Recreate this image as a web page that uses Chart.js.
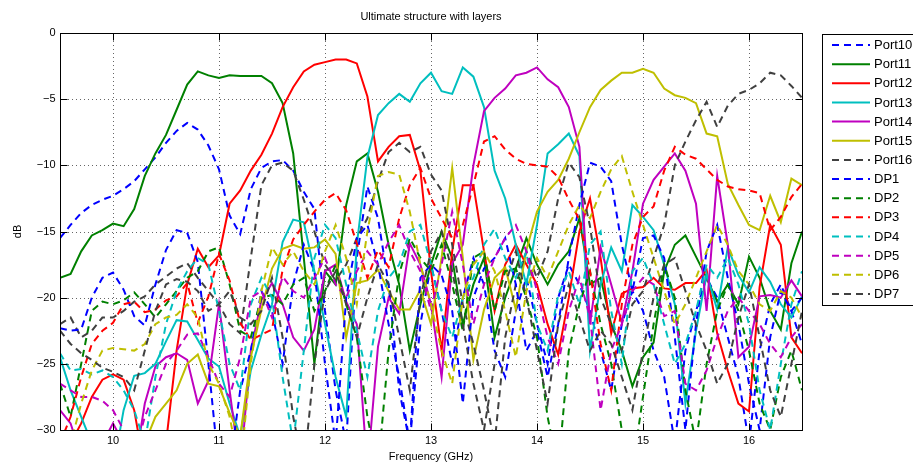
<!DOCTYPE html>
<html>
<head>
<meta charset="utf-8">
<script src="https://cdn.jsdelivr.net/npm/chart.js@4.4.0/dist/chart.umd.min.js"></script>
<style>
  html, body { margin: 0; padding: 0; background: #fff; }
  #wrap { width: 913px; height: 465px; }
</style>
</head>
<body>
<div id="wrap"><canvas id="chart" width="913" height="465"></canvas></div>
<script>
// Text and ticks
const titleText = 'Ultimate structure with layers';
const xLabel = 'Frequency (GHz)';
const yLabel = 'dB';
const xTicks = [10, 11, 12, 13, 14, 15, 16];
const yTicks = [0, -5, -10, -15, -20, -25, -30];

// Frequency samples (GHz)
const freq = [
  9.5, 9.6, 9.7, 9.8, 9.9, 10.0, 10.1, 10.2, 10.3, 10.4, 10.5, 10.6, 10.7, 10.8, 10.9,
  11.0, 11.1, 11.2, 11.3, 11.4, 11.5, 11.6, 11.7, 11.8, 11.9, 12.0, 12.1, 12.2, 12.3, 12.4,
  12.5, 12.6, 12.7, 12.8, 12.9, 13.0, 13.1, 13.2, 13.3, 13.4, 13.5, 13.6, 13.7, 13.8, 13.9,
  14.0, 14.1, 14.2, 14.3, 14.4, 14.5, 14.6, 14.7, 14.8, 14.9, 15.0, 15.1, 15.2, 15.3, 15.4,
  15.5, 15.6, 15.7, 15.8, 15.9, 16.0, 16.1, 16.2, 16.3, 16.4, 16.5
];

// Series values (dB), one per frequency sample
const port10 = [
  -15.5, -14.5, -13.6, -13.0, -12.6, -12.3, -11.8, -11.2, -10.3, -9.4, -8.3, -7.4, -6.8, -7.3, -8.5,
  -10.3, -13.8, -15.2, -11.8, -10.2, -9.7, -9.6, -10.4, -12.0, -13.3, -21.0, -27.0, -31.0, -17.0, -11.6,
  -14.0, -19.0, -27.0, -31.0, -22.0, -17.5, -21.0, -25.0, -20.0, -17.0, -19.0, -24.0, -26.0, -21.0, -18.5,
  -22.0, -25.0, -20.0, -17.5, -19.0, -21.0, -24.0, -27.0, -22.0, -19.5, -21.0, -24.0, -26.0, -31.0, -24.0,
  -21.0, -18.5, -20.0, -23.0, -26.0, -31.0, -24.0, -20.5, -19.0, -21.0, -23.5
];
const port11 = [
  -18.5, -18.2, -16.5, -15.3, -14.9, -14.4, -14.6, -13.3, -10.8, -9.1, -7.7, -5.8, -3.9, -2.9, -3.2,
  -3.4, -3.2, -3.25, -3.25, -3.25, -3.8, -5.3, -9.1, -17.0, -25.0, -18.0, -19.0, -13.0, -9.7, -9.1,
  -12.0, -16.0, -19.0, -24.0, -20.5, -17.5, -15.0, -17.0, -22.0, -19.0, -17.0, -23.0, -20.0, -17.8, -15.5,
  -17.5, -19.0, -17.5, -16.5, -14.0, -19.0, -18.5, -22.0, -24.0, -26.7, -24.5, -23.4, -18.0, -16.0, -15.3,
  -16.9, -18.5, -20.3, -19.0, -20.5, -16.9, -18.5, -21.0, -22.4, -17.4, -15.0
];
const port12 = [
  -33.0, -31.0, -29.5, -27.5, -26.2, -25.8, -26.2, -28.5, -33.0, -33.0, -31.0, -24.0, -19.0, -16.3, -17.7,
  -16.8, -12.9, -11.9, -10.4, -9.2, -7.6, -5.6, -4.1, -2.9, -2.4, -2.2, -2.0, -2.0, -2.3, -4.8,
  -9.7, -8.6, -7.8, -7.7, -10.4, -18.0, -24.0, -16.5, -11.5, -11.5, -16.5, -21.0, -17.5, -16.0, -17.5,
  -19.0, -22.0, -24.3, -20.0, -15.0, -12.5, -17.0, -22.7, -19.7, -19.3, -19.2, -18.5, -19.3, -19.4, -18.9,
  -18.9, -17.9, -22.7, -25.5, -28.0, -28.6, -19.2, -14.5, -16.0, -23.0, -24.2
];
const port13 = [
  -24.5, -27.0, -29.0, -31.0, -33.0, -33.0, -28.5, -25.9, -25.7, -25.0, -23.3, -21.7, -21.8, -23.2, -24.6,
  -25.2, -28.0, -30.5, -25.5, -22.8, -20.5, -15.8, -14.1, -14.3, -18.0, -22.0, -26.0, -29.0, -16.0, -9.4,
  -6.2, -5.3, -4.6, -5.2, -3.8, -3.0, -4.4, -4.6, -2.6, -3.3, -5.6, -10.4, -12.5, -16.0, -19.0,
  -14.5, -9.1, -8.4, -7.6, -9.3, -24.0, -19.0, -16.2, -18.0, -13.0, -13.9, -14.9, -17.5, -20.5, -28.0,
  -22.5, -18.2, -20.9, -16.2, -18.3, -19.6, -17.7, -18.8, -20.5, -21.5, -19.9
];
const port14 = [
  -28.5, -29.5, -32.0, -33.0, -31.0, -29.5, -31.0, -33.0, -28.0, -25.2, -24.5, -24.2, -24.7, -28.0, -26.3,
  -20.5, -27.0, -33.0, -24.0, -20.2, -18.9, -20.5, -23.0, -24.0, -22.4, -18.0, -17.5, -20.3, -22.0, -33.0,
  -23.7, -20.0, -21.2, -15.9, -17.5, -20.5, -26.0, -17.4, -16.0, -10.0, -5.9, -4.9, -4.2, -3.2, -3.0,
  -2.6, -3.5, -4.1, -5.6, -8.6, -22.0, -16.2, -19.0, -21.9, -18.0, -12.9, -11.1, -10.1, -9.1, -10.4,
  -12.9, -21.0, -10.8, -16.0, -24.5, -23.7, -19.9, -19.8, -20.0, -18.7, -19.9
];
const port15 = [
  -35.0, -35.0, -35.0, -34.0, -33.0, -33.0, -32.0, -32.0, -31.0, -29.0, -28.0, -27.0, -25.0, -24.3, -26.5,
  -26.7, -28.7, -30.5, -24.5, -20.9, -17.8, -16.3, -16.0, -16.3, -16.2, -15.6, -16.7, -23.0, -18.9, -18.7,
  -17.9, -19.5, -20.9, -20.9, -19.4, -22.0, -17.0, -10.2, -17.0, -24.7, -20.9, -18.5, -17.7, -20.9, -16.4,
  -13.5, -12.0, -11.1, -9.5, -7.5, -5.6, -4.3, -3.6, -3.0, -3.0, -2.7, -3.0, -4.2, -4.7, -4.9,
  -5.3, -7.6, -7.8, -11.4, -13.0, -14.5, -14.9, -12.3, -14.3, -11.0, -11.5
];
const port16 = [
  -22.0, -21.5, -23.0, -22.5, -21.5, -21.5, -21.0, -20.3, -19.9, -19.0, -18.4, -17.8, -17.4, -18.5, -19.5,
  -20.5, -22.0, -22.7, -17.0, -11.5, -10.0, -9.8, -10.4, -12.6, -15.0, -17.5, -18.7, -17.5, -15.5, -14.0,
  -11.2, -9.0, -8.3, -9.0, -8.6, -10.7, -11.9, -16.0, -20.5, -23.5, -27.0, -31.0, -23.0, -19.0, -16.5,
  -18.5, -16.5, -12.5, -9.8, -10.9, -14.6, -20.0, -22.0, -24.0, -20.5, -19.5, -17.0, -14.5, -10.0, -8.2,
  -6.6, -5.2, -7.1, -5.5, -4.6, -4.3, -3.8, -3.0, -3.2, -4.0, -4.9
];
const dp1 = [
  -22.3, -22.5, -22.4, -20.0, -18.5, -18.1, -19.4, -21.4, -22.1, -19.0, -16.4, -14.9, -15.1, -17.3, -25.0,
  -33.0, -33.0, -27.0, -24.0, -19.5, -21.0, -25.0, -19.0, -16.0, -18.0, -25.0, -31.0, -20.0, -15.5, -14.5,
  -17.5, -22.0, -26.0, -31.0, -18.5, -17.5, -18.3, -21.0, -28.0, -20.0, -17.8, -17.0, -15.5, -19.0, -24.0,
  -22.5, -26.0, -22.0, -17.0, -13.0, -9.8, -10.1, -11.2, -16.0, -19.5, -15.5, -15.3, -17.0, -23.0, -30.0,
  -22.0, -16.5, -14.5, -18.5, -22.0, -26.5, -30.0, -23.0, -19.5, -21.0, -20.0
];
const dp2 = [
  -26.5, -29.0, -25.0, -21.0, -20.3, -20.5, -20.2, -19.6, -20.5, -21.5, -20.5, -19.5, -18.5, -18.0, -16.5,
  -16.2, -19.0, -22.5, -23.0, -20.0, -19.8, -20.5, -19.0, -18.5, -21.0, -19.5, -17.5, -20.5, -23.0, -29.0,
  -33.0, -24.0, -18.2, -15.5, -17.0, -18.0, -16.0, -19.0, -22.5, -17.0, -16.5, -21.0, -18.0, -17.8, -20.0,
  -23.0, -29.0, -33.0, -24.0, -20.5, -18.0, -22.0, -25.0, -30.0, -33.0, -27.5, -22.0, -17.5, -20.0, -27.0,
  -31.0, -25.0, -21.0, -19.0, -21.0, -24.0, -28.0, -30.0, -26.0, -24.0, -27.0
];
const dp3 = [
  -31.0, -29.0, -26.0, -23.5, -22.5, -21.9, -20.5, -20.3, -21.1, -20.9, -20.2, -19.9, -18.9, -21.9, -19.9,
  -16.7, -18.7, -21.9, -23.2, -22.8, -22.4, -17.9, -15.6, -14.5, -13.5, -12.6, -12.1, -13.4, -15.9, -18.5,
  -16.4, -17.7, -14.0, -11.5, -10.2, -12.5, -14.0, -15.5, -14.5, -11.5, -8.2, -7.8, -8.8, -9.5, -9.9,
  -10.0, -10.1, -10.9, -12.6, -14.1, -18.0, -23.5, -27.0, -20.5, -16.0, -13.9, -13.1, -10.4, -8.6, -9.2,
  -9.5, -10.3, -11.1, -11.6, -11.8, -11.9, -12.1, -14.9, -13.9, -12.4, -11.4
];
const dp4 = [
  -24.2, -25.5, -25.4, -25.8, -25.5, -26.0, -27.0, -28.5, -31.0, -26.0, -22.0, -19.5, -18.0, -17.0, -17.5,
  -21.0, -25.0, -27.0, -20.5, -18.5, -20.0, -26.0, -31.0, -24.0, -17.0, -14.5, -15.5, -19.0, -22.5, -26.0,
  -21.0, -18.5, -17.5, -15.0, -14.5, -17.5, -21.0, -23.0, -20.0, -18.5, -16.0, -14.8, -17.0, -18.5, -16.5,
  -22.0, -24.0, -19.8, -18.0, -20.5, -16.0, -15.0, -21.0, -25.0, -18.0, -17.0, -19.0, -22.0, -25.0, -23.5,
  -21.0, -17.5, -18.5, -17.0, -19.0, -22.0, -27.0, -30.0, -25.0, -20.5, -18.0
];
const dp5 = [
  -26.5, -27.0, -27.5, -27.5, -27.8, -28.5, -30.0, -32.0, -29.0, -27.0, -25.0, -24.0, -22.8, -22.7, -24.5,
  -26.5, -27.5, -24.5, -20.0, -19.5, -21.5, -18.4, -19.5, -20.0, -18.5, -17.0, -19.0, -20.0, -18.0, -16.5,
  -17.5, -15.8, -14.5, -16.5, -18.0, -21.0, -17.5, -13.5, -17.5, -22.0, -19.0, -17.0, -15.5, -14.5, -16.5,
  -19.5, -23.0, -25.0, -21.0, -18.5, -21.5, -28.5, -24.0, -22.0, -19.5, -18.5, -19.0, -21.4, -21.0, -26.5,
  -27.0, -25.5, -23.0, -21.0, -20.0, -21.0, -22.0, -23.5, -24.5, -23.0, -22.0
];
const dp6 = [
  -33.0, -31.0, -28.0, -25.5, -24.0, -23.8, -23.9, -24.0, -23.5, -22.0, -21.5, -21.3, -20.5, -21.5, -25.0,
  -26.5, -29.0, -33.0, -25.0, -19.5, -16.2, -17.5, -16.5, -18.0, -19.0, -16.5, -14.5, -17.0, -20.5, -15.0,
  -10.8, -10.5, -10.7, -13.5, -17.5, -20.5, -24.0, -26.5, -20.0, -17.5, -16.5, -18.0, -21.0, -24.5, -19.5,
  -17.0, -18.5, -16.5, -14.5, -13.0, -14.0, -12.0, -10.3, -9.3, -12.0, -14.5, -17.0, -19.5, -22.0, -20.5,
  -18.5, -16.5, -14.5, -16.0, -18.0, -19.0, -20.5, -21.0, -19.5, -20.0, -21.5
];
const dp7 = [
  -22.5, -23.5, -24.2, -24.7, -25.3, -25.6, -26.0, -27.0, -24.0, -21.0, -19.0, -18.6, -18.8, -19.5, -21.0,
  -20.5, -19.5, -21.5, -22.0, -21.0, -18.5, -23.0, -29.0, -33.0, -25.0, -19.5, -18.0, -20.5, -23.0, -20.0,
  -17.5, -19.0, -23.0, -27.0, -20.0, -16.5, -15.0, -18.0, -22.0, -26.5, -30.0, -25.0, -19.0, -16.5, -20.0,
  -24.0, -28.0, -22.0, -19.0, -21.5, -24.0, -22.5, -23.5, -26.0, -28.5, -24.0, -20.0, -17.5, -17.0, -19.5,
  -22.0, -24.0, -26.5, -25.0, -21.5, -19.0, -23.0, -27.0, -29.0, -25.0, -21.0
];

const seriesNames = ['Port10', 'Port11', 'Port12', 'Port13', 'Port14', 'Port15', 'Port16',
                     'DP1', 'DP2', 'DP3', 'DP4', 'DP5', 'DP6', 'DP7'];
const seriesValues = [port10, port11, port12, port13, port14, port15, port16,
                      dp1, dp2, dp3, dp4, dp5, dp6, dp7];

// MATLAB default line colours and styles
const seriesColors = ['#0000ff', '#008000', '#ff0000', '#00bfbf', '#bf00bf', '#bfbf00', '#404040',
                      '#0000ff', '#008000', '#ff0000', '#00bfbf', '#bf00bf', '#bfbf00', '#404040'];
const seriesDashed = [true, false, false, false, false, false, true,
                      true, true, true, true, true, true, true];
const DASH = [7, 5];
const FONT = '"Liberation Sans", Arial, Helvetica, sans-serif';

const datasets = seriesNames.map((name, i) => ({
  label: name,
  data: freq.map((f, k) => ({ x: f, y: seriesValues[i][k] })),
  borderColor: seriesColors[i],
  borderWidth: 2,
  borderDash: seriesDashed[i] ? DASH : [],
  pointRadius: 0,
  tension: 0,
  fill: false,
  // later series drawn on top, as in MATLAB
  order: seriesNames.length - i
}));

// Draws the MATLAB-style axes box, dotted grid, inward ticks, labels, title and legend
const matlabAxes = {
  id: 'matlabAxes',
  beforeDatasetsDraw(chart) {
    const { ctx, chartArea: a, scales } = chart;
    ctx.save();
    ctx.strokeStyle = 'rgba(0,0,0,0.6)';
    ctx.lineWidth = 1;
    ctx.setLineDash([1, 3]);
    xTicks.forEach(t => {
      const px = Math.round(scales.x.getPixelForValue(t)) + 0.5;
      ctx.beginPath(); ctx.moveTo(px, a.top); ctx.lineTo(px, a.bottom); ctx.stroke();
    });
    yTicks.forEach(t => {
      const py = Math.round(scales.y.getPixelForValue(t)) + 0.5;
      ctx.beginPath(); ctx.moveTo(a.left, py); ctx.lineTo(a.right, py); ctx.stroke();
    });
    ctx.restore();
  },
  afterDatasetsDraw(chart) {
    const { ctx, chartArea: a, scales } = chart;
    const L = Math.round(a.left) + 0.5, R = Math.round(a.right) + 0.5;
    const T = Math.round(a.top) + 0.5, B = Math.round(a.bottom) + 0.5;
    ctx.save();
    ctx.setLineDash([]);
    ctx.strokeStyle = '#000';
    ctx.lineWidth = 1;
    ctx.strokeRect(L, T, R - L, B - T);

    // inward ticks on all four sides
    const tk = 7;
    ctx.beginPath();
    xTicks.forEach(t => {
      const px = Math.round(scales.x.getPixelForValue(t)) + 0.5;
      ctx.moveTo(px, B); ctx.lineTo(px, B - tk);
      ctx.moveTo(px, T); ctx.lineTo(px, T + tk);
    });
    yTicks.forEach(t => {
      const py = Math.round(scales.y.getPixelForValue(t)) + 0.5;
      ctx.moveTo(L, py); ctx.lineTo(L + tk, py);
      ctx.moveTo(R, py); ctx.lineTo(R - tk, py);
    });
    ctx.stroke();

    // tick labels
    ctx.fillStyle = '#000';
    ctx.font = '11px ' + FONT;
    ctx.textAlign = 'center';
    ctx.textBaseline = 'top';
    xTicks.forEach(t => ctx.fillText(String(t), scales.x.getPixelForValue(t), B + 5));
    ctx.textAlign = 'right';
    ctx.textBaseline = 'middle';
    yTicks.forEach(t => ctx.fillText(String(t).replace('-', '\u2212'), L - 5, scales.y.getPixelForValue(t)));

    // axis titles and chart title
    ctx.textAlign = 'center';
    ctx.textBaseline = 'middle';
    ctx.fillText(xLabel, (a.left + a.right) / 2, 457);
    ctx.fillText(titleText, (a.left + a.right) / 2, 17);
    ctx.save();
    ctx.translate(18, (a.top + a.bottom) / 2);
    ctx.rotate(-Math.PI / 2);
    ctx.fillText(yLabel, 0, 0);
    ctx.restore();

    // legend box (runs past the right edge, as in the reference)
    const lx = 822.5, ly = 34.5, lw = 120, lh = 271;
    ctx.fillStyle = '#fff';
    ctx.fillRect(lx, ly, lw, lh);
    ctx.strokeStyle = '#000';
    ctx.strokeRect(lx, ly, lw, lh);
    ctx.font = '13px ' + FONT;
    ctx.textAlign = 'left';
    ctx.textBaseline = 'middle';
    seriesNames.forEach((name, i) => {
      const y = 45 + i * 19.15;
      ctx.beginPath();
      ctx.setLineDash(seriesDashed[i] ? DASH : []);
      ctx.strokeStyle = seriesColors[i];
      ctx.lineWidth = 2;
      ctx.moveTo(832, y); ctx.lineTo(870, y);
      ctx.stroke();
      ctx.setLineDash([]);
      ctx.fillStyle = '#000';
      ctx.fillText(name, 874, y + 0.5);
    });
    ctx.restore();
  }
};

new Chart(document.getElementById('chart'), {
  type: 'line',
  data: { datasets },
  options: {
    responsive: false,
    animation: false,
    devicePixelRatio: 1,
    layout: { padding: { left: 60, top: 33, right: 111, bottom: 35 } },
    plugins: { legend: { display: false }, tooltip: { enabled: false }, title: { display: false } },
    scales: {
      x: { type: 'linear', min: 9.5, max: 16.5, display: false },
      y: { type: 'linear', min: -30, max: 0, display: false }
    }
  },
  plugins: [matlabAxes]
});
</script>
</body>
</html>
